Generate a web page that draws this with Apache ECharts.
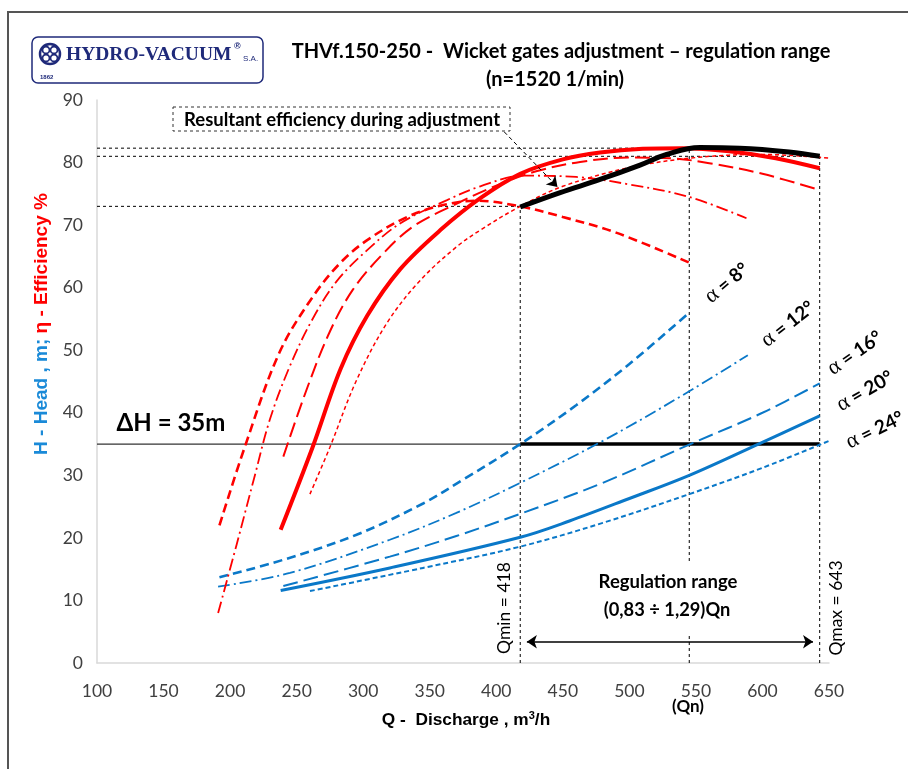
<!DOCTYPE html>
<html>
<head>
<meta charset="utf-8">
<title>THVf.150-250 wicket gates adjustment</title>
<script src="https://cdn.jsdelivr.net/npm/echarts@6/dist/echarts.min.js"></script>
<style>
html, body { margin: 0; padding: 0; background: #fff; }
#chart { width: 908px; height: 769px; }
</style>
</head>
<body>
<div id="chart"></div>
<script>
// axis ticks
var qTicks = [100, 650, 50];
var yTicks = [0, 90, 10];

// head curves H(Q), one per gate angle
var qH8 = [192, 240, 295, 345, 375, 418, 460, 500, 545];
var hA8 = [13.7, 16.5, 20.5, 25.5, 29.3, 35, 41.2, 47.8, 56];
var qH12 = [191, 245, 320, 370, 418, 480, 540, 589];
var hA12 = [12.2, 14.4, 19.7, 24, 28.8, 35.5, 42.8, 49.2];
var qH16 = [240, 320, 370, 420, 480, 548, 600, 643];
var hA16 = [12.3, 17, 20.3, 24, 28.8, 35.2, 40, 44.7];
var qH20 = [238, 320, 418, 455, 500, 545, 597, 643];
var hA20 = [11.6, 15.2, 20.1, 22.7, 26.3, 30, 35, 39.5];
var qH24 = [260, 345, 418, 480, 545, 600, 650];
var hA24 = [11.5, 15.2, 18.6, 22.4, 27, 31.2, 35.5];

// efficiency curves eta(Q), one per gate angle
var qE8 = [192, 211, 237, 262, 283, 303, 333, 360, 385, 418, 450, 490, 545];
var eA8 = [22, 34.5, 49.6, 58.5, 64, 67.6, 71.3, 73.2, 73.9, 73, 71.3, 68.8, 64];
var qE12 = [191, 205, 218, 230, 245, 262, 280, 303, 328, 363, 388, 420, 460, 500, 545, 588];
var eA12 = [8, 19, 29.5, 39, 47.5, 55, 61, 66, 70.3, 74, 76.2, 77.9, 77.7, 76.5, 74.5, 71.1];
var qE16 = [240, 258, 275, 292, 313, 337, 368, 400, 430, 463, 500, 530, 560, 600, 643];
var eA16 = [33, 44, 53, 59.6, 65, 69.7, 73.2, 76.3, 78.6, 80.1, 80.8, 80.7, 79.9, 78.2, 75.6];
var qE20 = [238, 262, 283, 303, 328, 358, 388, 418, 450, 478, 510, 540, 575, 610, 643];
var eA20 = [21.3, 34.5, 47, 55.5, 63, 69.2, 74.3, 78.2, 80.5, 81.6, 82.2, 82.3, 81.8, 80.7, 79.1];
var qE24 = [260, 275, 295, 318, 343, 370, 388, 418, 450, 500, 550, 600, 650];
var eA24 = [27, 34.5, 45.2, 54.4, 61.2, 66.5, 69.2, 73, 76.2, 79.2, 80.8, 81.3, 80.7];

// resultant efficiency along H = 35 m
var qRes = [418, 448, 478, 508, 528, 553, 583, 620, 643];
var eRes = [72.9, 75.2, 77.3, 79.6, 81.3, 82.4, 82.3, 81.7, 81];

// regulation range
var qMin = 418, qN = 545, qMax = 643;
var headLine = 35;
var effAtMin = 73, effAtN = 82.3, effAtMax = 81;

var RED = '#ff0000';
var BLUE = '#0a78c8';
var NAVY = '#1f2a7a';

function pairs(q, v) {
    return q.map(function (x, i) { return [x, v[i]]; });
}

function curve(name, q, v, color, width, type) {
    return {
        name: name,
        type: 'line',
        data: pairs(q, v),
        smooth: 0.35,
        symbol: 'none',
        animation: false,
        silent: true,
        lineStyle: { color: color, width: width, type: type, cap: 'butt' },
        z: 3
    };
}

function guide(q, v, width, type, color) {
    return {
        type: 'line',
        data: pairs(q, v),
        symbol: 'none',
        animation: false,
        silent: true,
        lineStyle: { color: color || '#000', width: width, type: type },
        z: 2
    };
}

var DOT = [3, 3];
var series = [
    guide([qTicks[0], qN], [effAtN, effAtN], 1, DOT),
    guide([qTicks[0], qMax], [effAtMax, effAtMax], 1, DOT),
    guide([qTicks[0], qMin], [effAtMin, effAtMin], 1, DOT),
    guide([qMin, qMin], [0, effAtMin], 1, DOT),
    guide([qN, qN], [0, effAtN], 1, DOT),
    guide([qMax, qMax], [0, effAtMax], 1, DOT),
    guide([qTicks[0], qMin], [headLine, headLine], 1.3, 'solid', '#333'),
    guide([qMin, qMax], [headLine, headLine], 3.5, 'solid', '#000'),

    curve('H a8', qH8, hA8, BLUE, 2.6, [9, 5]),
    curve('H a12', qH12, hA12, BLUE, 1.8, [12, 4, 2, 4]),
    curve('H a16', qH16, hA16, BLUE, 2, [15, 6]),
    curve('H a20', qH20, hA20, BLUE, 3, 'solid'),
    curve('H a24', qH24, hA24, BLUE, 2, [5, 3]),

    curve('eta a8', qE8, eA8, RED, 2.6, [9, 5]),
    curve('eta a12', qE12, eA12, RED, 1.8, [12, 4, 2, 4]),
    curve('eta a16', qE16, eA16, RED, 2, [15, 6]),
    curve('eta a20', qE20, eA20, RED, 4, 'solid'),
    curve('eta a24', qE24, eA24, RED, 1.5, [4, 3]),

    {
        type: 'line',
        data: pairs(qRes, eRes),
        smooth: 0.4,
        symbol: 'none',
        animation: false,
        lineStyle: { color: '#000', width: 5 },
        z: 5
    },
    {
        type: 'line',
        data: [],
        animation: false,
        markLine: {
            silent: true,
            animation: false,
            label: { show: false },
            symbolSize: 10,
            data: [
                [{ coord: [qMin + 5, 3.4], symbol: 'arrow', lineStyle: { color: '#000', width: 1.5, type: 'solid' } },
                 { coord: [qMax - 5, 3.4], symbol: 'arrow' }],
                [{ coord: [406, 84.9], symbol: 'none', lineStyle: { color: '#000', width: 1, type: [4, 3] } },
                 { coord: [446, 76.1], symbol: 'arrow' }]
            ]
        }
    }
];

var LABEL_FONT = 'Lato, "Open Sans", sans-serif';

function txt(x, y, text, font, opts) {
    opts = opts || {};
    return {
        type: 'text',
        x: x,
        y: y,
        rotation: opts.rot || 0,
        silent: true,
        z: 20,
        style: {
            text: text,
            font: font,
            fill: opts.fill || '#000',
            align: opts.align || 'center',
            verticalAlign: 'middle',
            rich: opts.rich
        }
    };
}

var alphaRich = {
    a: { font: '22px "Liberation Serif", serif', fill: '#000' },
    n: { font: 'bold 19px ' + LABEL_FONT, fill: '#000' }
};
function alphaLabel(x, y, deg, angle) {
    return txt(x, y, '{a|α}{n| = ' + deg + '°}', 'bold 19px ' + LABEL_FONT,
        { rot: angle * Math.PI / 180, rich: alphaRich });
}

var AXIS_NAME_FONT = 'bold 19px "Liberation Sans", sans-serif';

var graphics = [
    // outer frame
    { type: 'rect', silent: true, shape: { x: 8, y: 12, width: 1000, height: 1000 },
      style: { fill: 'none', stroke: '#555', lineWidth: 2 } },
    // logo
    { type: 'rect', silent: true, shape: { x: 32, y: 37, width: 231, height: 46, r: 6 },
      style: { fill: '#fff', stroke: NAVY, lineWidth: 1.5 } },
    { type: 'circle', silent: true, shape: { cx: 50, cy: 54, r: 10 },
      style: { fill: 'none', stroke: NAVY, lineWidth: 2.5 } },
    { type: 'circle', silent: true, shape: { cx: 46, cy: 50, r: 3.5 },
      style: { fill: 'none', stroke: NAVY, lineWidth: 1.8 } },
    { type: 'circle', silent: true, shape: { cx: 54, cy: 50, r: 3.5 },
      style: { fill: 'none', stroke: NAVY, lineWidth: 1.8 } },
    { type: 'circle', silent: true, shape: { cx: 46, cy: 58, r: 3.5 },
      style: { fill: 'none', stroke: NAVY, lineWidth: 1.8 } },
    { type: 'circle', silent: true, shape: { cx: 54, cy: 58, r: 3.5 },
      style: { fill: 'none', stroke: NAVY, lineWidth: 1.8 } },
    txt(66, 55, 'HYDRO-VACUUM', 'bold 19.5px "Liberation Serif", serif', { align: 'left', fill: NAVY }),
    txt(234, 47, '®', 'bold 9px "Liberation Sans", sans-serif', { align: 'left', fill: NAVY }),
    txt(243, 59, 'S.A.', '8px "Liberation Sans", sans-serif', { align: 'left', fill: NAVY }),
    txt(40, 77, '1862', 'bold 6px "Liberation Sans", sans-serif', { align: 'left', fill: NAVY }),

    // title
    txt(561, 52, 'THVf.150-250 -  Wicket gates adjustment – regulation range', 'bold 20px ' + LABEL_FONT),
    txt(555, 80, '(n=1520 1/min)', 'bold 20px ' + LABEL_FONT),

    // axis names
    txt(42, 324, '{b|H - Head , m; }{r|η - Efficiency %}', AXIS_NAME_FONT, {
        rot: Math.PI / 2,
        rich: {
            b: { font: AXIS_NAME_FONT, fill: '#1a8ad8' },
            r: { font: AXIS_NAME_FONT, fill: RED }
        }
    }),
    txt(466, 720, '{t|Q -  Discharge , m}{s|3}{t|/h}', 'bold 17.3px "Liberation Sans", sans-serif', {
        rich: {
            t: { font: 'bold 17.3px "Liberation Sans", sans-serif', fill: '#000' },
            s: { font: 'bold 11px "Liberation Sans", sans-serif', fill: '#000', verticalAlign: 'top', padding: [0, 0, 8, 0] }
        }
    }),
    txt(688, 707, '(Qn)', 'bold 17px ' + LABEL_FONT),

    // annotations
    { type: 'rect', silent: true, z: 19, shape: { x: 173, y: 107, width: 337, height: 24 },
      style: { fill: '#fff', stroke: '#333', lineWidth: 1, lineDash: [3, 3] } },
    txt(342, 120, 'Resultant efficiency during adjustment', 'bold 18.5px ' + LABEL_FONT),
    txt(171, 423, 'ΔH = 35m', 'bold 24px ' + LABEL_FONT),
    { type: 'rect', silent: true, z: 19, shape: { x: 594, y: 562, width: 150, height: 74 },
      style: { fill: '#fff', stroke: 'none' } },
    txt(668, 582, 'Regulation range', 'bold 18.5px ' + LABEL_FONT),
    txt(667, 610, '(0,83 ÷ 1,29)Qn', 'bold 18.3px ' + LABEL_FONT),
    txt(504, 608, 'Qmin = 418', '17.5px ' + LABEL_FONT, { rot: Math.PI / 2 }),
    txt(836, 608, 'Qmax = 643', '17.5px ' + LABEL_FONT, { rot: Math.PI / 2 }),

    alphaLabel(727, 283, 8, 40),
    alphaLabel(788, 324, 12, 38),
    alphaLabel(855, 353, 16, 35),
    alphaLabel(865, 391, 20, 30),
    alphaLabel(875, 430, 24, 26)
];

var chart = echarts.init(document.getElementById('chart'));
chart.setOption({
    backgroundColor: '#fff',
    animation: false,
    grid: { left: 97, right: 79, top: 100, bottom: 106 },
    xAxis: {
        type: 'value',
        min: qTicks[0],
        max: qTicks[1],
        interval: qTicks[2],
        splitLine: { show: false },
        axisTick: { show: false },
        axisLine: { lineStyle: { color: '#d9d9d9', width: 1.5 } },
        axisLabel: { color: '#404040', fontSize: 17.5, fontFamily: LABEL_FONT, margin: 19 }
    },
    yAxis: {
        type: 'value',
        min: yTicks[0],
        max: yTicks[1],
        interval: yTicks[2],
        splitLine: { show: false },
        axisTick: { show: false },
        axisLine: { show: true, lineStyle: { color: '#d9d9d9', width: 1.5 } },
        axisLabel: { color: '#404040', fontSize: 17.5, fontFamily: LABEL_FONT, margin: 14 }
    },
    series: series,
    graphic: graphics
});
</script>
</body>
</html>
